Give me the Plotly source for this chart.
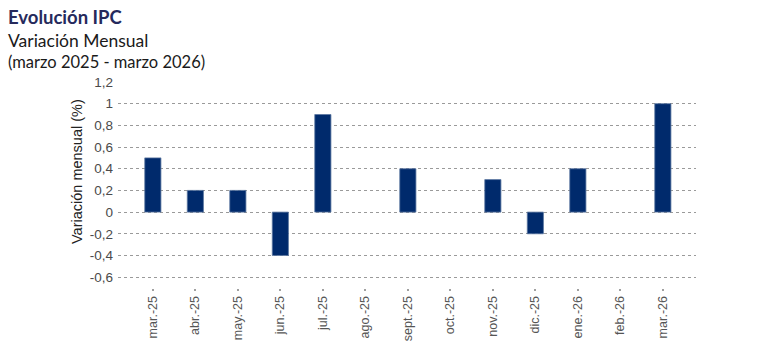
import plotly.graph_objects as go

categories = ["mar.-25", "abr.-25", "may.-25", "jun.-25", "jul.-25", "ago.-25", "sept.-25",
              "oct.-25", "nov.-25", "dic.-25", "ene.-26", "feb.-26", "mar.-26"]
values = [0.5, 0.2, 0.2, -0.4, 0.9, 0.0, 0.4, 0.0, 0.3, -0.2, 0.4, 0.0, 1.0]
y_tickvals = [-0.6, -0.4, -0.2, 0, 0.2, 0.4, 0.6, 0.8, 1.0, 1.2]
y_ticktext = ["-0,6", "-0,4", "-0,2", "0", "0,2", "0,4", "0,6", "0,8", "1", "1,2"]

W, H = 761, 342
L, R, T, B = 118, 65, 82, 54
plot_w = W - L - R
plot_h = H - T - B


def px_to_paper(xpx, ypx):
    return (xpx - L) / plot_w, 1 + (T - ypx) / plot_h


fig = go.Figure()
fig.add_trace(go.Bar(
    x=list(range(len(categories))), y=values,
    width=0.38,
    marker=dict(color="#002a6c",
                line=dict(color="#5a76a0", width=[0 if v == 0 else 0.8 for v in values])),
    hoverinfo="skip",
))

title_lines = [
    ("<b>Evolución IPC</b>", "#262a5c", 17, 18.5),
    ("Variación Mensual", "#1a1a1a", 40, 17.5),
    ("(marzo 2025 - marzo 2026)", "#1a1a1a", 62, 16.5),
]
for text, color, ypx, size in title_lines:
    xp, yp = px_to_paper(6, ypx)
    fig.add_annotation(
        text=text, x=xp, y=yp, xref="paper", yref="paper",
        xanchor="left", yanchor="middle", showarrow=False,
        font=dict(family="Lato", size=size, color=color),
    )

# y-axis title placed as rotated annotation (centred like the reference)
xp, yp = px_to_paper(77, 172)
fig.add_annotation(
    text="Variación mensual (%)", x=xp, y=yp, xref="paper", yref="paper",
    xanchor="center", yanchor="middle", textangle=-90, showarrow=False,
    font=dict(family="Liberation Sans", size=14.5, color="#222222"),
)

fig.update_layout(
    width=W, height=H,
    margin=dict(l=L, r=R, t=T, b=B),
    paper_bgcolor="white", plot_bgcolor="white",
    showlegend=False,
    xaxis=dict(
        tickmode="array",
        tickvals=list(range(len(categories))),
        ticktext=categories,
        range=[-0.82, 12.78],
        tickangle=-90,
        ticks="outside", ticklen=2, tickwidth=2, tickcolor="#a0a0a0",
        tickfont=dict(family="Liberation Sans", size=12.5, color="#555555"),
        showgrid=False, zeroline=False, showline=False,
        automargin=False,
    ),
    yaxis=dict(
        range=[-0.7, 1.2],
        tickmode="array", tickvals=y_tickvals, ticktext=y_ticktext,
        showgrid=True, gridcolor="#9a9a9a", griddash="dot", gridwidth=1,
        zeroline=False, showline=False,
        ticks="", ticklabelstandoff=4,
        automargin=False,
        tickfont=dict(family="Liberation Sans", size=13.5, color="#4a4a4a"),
    ),
)

fig.write_html("out.html")
